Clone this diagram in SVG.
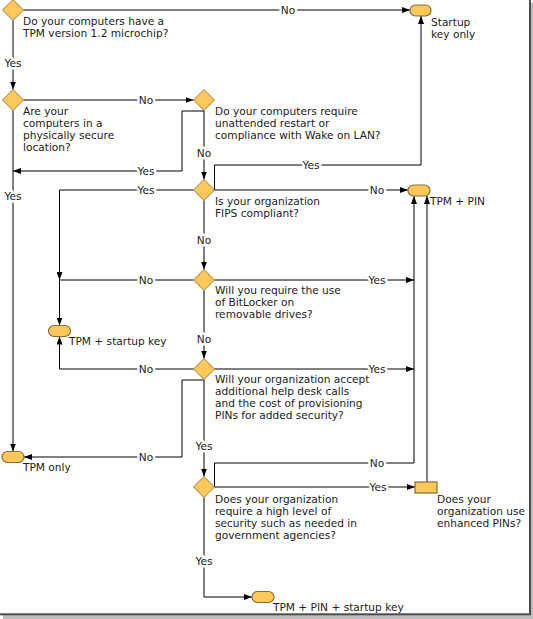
<svg xmlns="http://www.w3.org/2000/svg" width="533" height="619" viewBox="0 0 533 619">
<style>
text{font-family:"DejaVu Sans","Verdana",sans-serif;font-size:10.6px;fill:#222}
.lbl{text-anchor:middle;dominant-baseline:central;stroke:#fff;stroke-width:5px;paint-order:stroke;stroke-linejoin:round}
.dia{fill:#FFC85A;stroke:#9C7A3C;stroke-width:1}
.term{fill:#FFC85A;stroke:#8A6A30;stroke-width:1.2}
.cn{fill:none;stroke:#000;stroke-width:1}
.ar{marker-end:url(#arr)}
</style>
<defs>
<marker id="arr" viewBox="0 0 8 6" refX="8" refY="3" markerWidth="8" markerHeight="6" markerUnits="userSpaceOnUse" orient="auto">
<path d="M0,0 L8,3 L0,6 Z" fill="#000"/>
</marker>
</defs>
<rect x="3" y="3" width="530" height="616" fill="#bdbdbd"/>
<rect x="-2" y="-2" width="532" height="616.3" fill="#fff" stroke="#4d4d4d" stroke-width="2"/>

<g id="connectors">
<path class="cn ar" d="M23.5,10 H410"/>
<path class="cn ar" d="M13,20.5 V89.5"/>
<path class="cn ar" d="M23.5,100 H193.5"/>
<path class="cn ar" d="M13,110.5 V451.5"/>
<path class="cn ar" d="M204,110.5 V179.5"/>
<path class="cn ar" d="M204,111 H182 V171 H13"/>
<path class="cn ar" d="M214.5,190 V165 H421 V16"/>
<path class="cn ar" d="M214.5,190 H408"/>
<path class="cn ar" d="M193.5,190 H59.5 V280"/>
<path class="cn ar" d="M204,200.5 V269.5"/>
<path class="cn ar" d="M193.5,280 H59.5 V325.5"/>
<path class="cn ar" d="M214.5,280 H414"/>
<path class="cn ar" d="M204,290.5 V358.5"/>
<path class="cn ar" d="M193.5,369 H59.5 V336.5"/>
<path class="cn ar" d="M214.5,369 H414"/>
<path class="cn ar" d="M204,380 H182 V457 H24"/>
<path class="cn ar" d="M204,379.5 V476.5"/>
<path class="cn ar" d="M214.5,487 V463 H414 V196"/>
<path class="cn ar" d="M214.5,487 H415"/>
<path class="cn ar" d="M427,482 V196"/>
<path class="cn ar" d="M204,497.5 V597 H252"/>
<text class="lbl" x="288" y="10">No</text>
<text class="lbl" x="13" y="63">Yes</text>
<text class="lbl" x="146" y="100">No</text>
<text class="lbl" x="13" y="196">Yes</text>
<text class="lbl" x="204" y="153">No</text>
<text class="lbl" x="146" y="171">Yes</text>
<text class="lbl" x="311" y="165">Yes</text>
<text class="lbl" x="377" y="190">No</text>
<text class="lbl" x="146" y="190">Yes</text>
<text class="lbl" x="204" y="240">No</text>
<text class="lbl" x="146" y="280">No</text>
<text class="lbl" x="377" y="280">Yes</text>
<text class="lbl" x="204" y="339">No</text>
<text class="lbl" x="146" y="369">No</text>
<text class="lbl" x="377" y="369">Yes</text>
<text class="lbl" x="204" y="446">Yes</text>
<text class="lbl" x="146" y="457">No</text>
<text class="lbl" x="377" y="463">No</text>
<text class="lbl" x="378" y="487">Yes</text>
<text class="lbl" x="204" y="561">Yes</text>
</g>

<g id="q1">
<path class="dia" d="M13,-0.5 L23.5,10 L13,20.5 L2.5,10 Z"/>
<text x="23" y="25">Do your computers have a</text>
<text x="23" y="37">TPM version 1.2 microchip?</text>
</g>
<g id="q2">
<path class="dia" d="M13,89.5 L23.5,100 L13,110.5 L2.5,100 Z"/>
<text x="23" y="115">Are your</text>
<text x="23" y="127">computers in a</text>
<text x="23" y="139">physically secure</text>
<text x="23" y="151">location?</text>
</g>
<g id="q3">
<path class="dia" d="M204,89.5 L214.5,100 L204,110.5 L193.5,100 Z"/>
<text x="215" y="115">Do your computers require</text>
<text x="215" y="127">unattended restart or</text>
<text x="215" y="139">compliance with Wake on LAN?</text>
</g>
<g id="q4">
<path class="dia" d="M204,179.5 L214.5,190 L204,200.5 L193.5,190 Z"/>
<text x="215" y="205">Is your organization</text>
<text x="215" y="217">FIPS compliant?</text>
</g>
<g id="q5">
<path class="dia" d="M204,269.5 L214.5,280 L204,290.5 L193.5,280 Z"/>
<text x="215" y="294">Will you require the use</text>
<text x="215" y="306">of BitLocker on</text>
<text x="215" y="318">removable drives?</text>
</g>
<g id="q6">
<path class="dia" d="M204,358.5 L214.5,369 L204,379.5 L193.5,369 Z"/>
<text x="215" y="383">Will your organization accept</text>
<text x="215" y="395">additional help desk calls</text>
<text x="215" y="407">and the cost of provisioning</text>
<text x="215" y="419">PINs for added security?</text>
</g>
<g id="q7">
<path class="dia" d="M204,476.5 L214.5,487 L204,497.5 L193.5,487 Z"/>
<text x="215" y="503">Does your organization</text>
<text x="215" y="515">require a high level of</text>
<text x="215" y="527">security such as needed in</text>
<text x="215" y="539">government agencies?</text>
</g>
<g id="q8">
<rect class="term" x="415" y="482" width="22" height="11"/>
<text x="437" y="503">Does your</text>
<text x="437" y="515">organization use</text>
<text x="437" y="527">enhanced PINs?</text>
</g>
<g id="t-startup">
<rect class="term" x="410" y="5" width="21" height="11" rx="5.5"/>
<text x="431" y="26">Startup</text>
<text x="431" y="38">key only</text>
</g>
<g id="t-pin">
<rect class="term" x="408" y="185" width="22" height="11" rx="5.5"/>
<text x="430" y="205">TPM + PIN</text>
</g>
<g id="t-tpm-startup">
<rect class="term" x="48.5" y="325.5" width="22" height="11" rx="5.5"/>
<text x="69" y="345">TPM + startup key</text>
</g>
<g id="t-tpm-only">
<rect class="term" x="2" y="451.5" width="22" height="11" rx="5.5"/>
<text x="23" y="471">TPM only</text>
</g>
<g id="t-pin-startup">
<rect class="term" x="252" y="591.5" width="22" height="11" rx="5.5"/>
<text x="273" y="611">TPM + PIN + startup key</text>
</g>
</svg>
